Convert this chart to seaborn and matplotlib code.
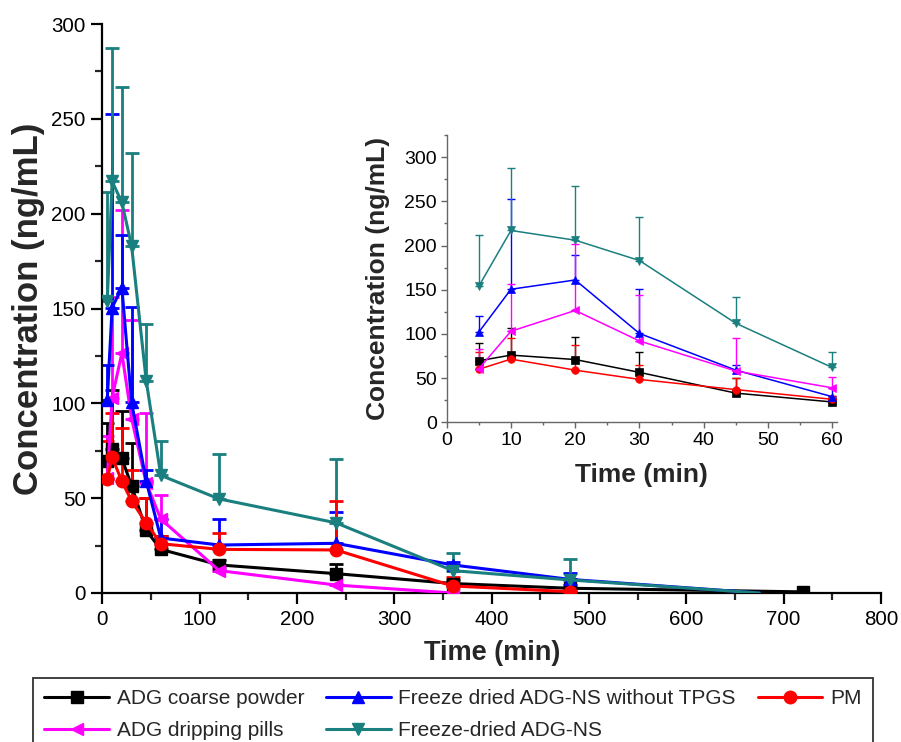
import numpy as np
import pandas as pd
import matplotlib
matplotlib.use('Agg')
import matplotlib.pyplot as plt
import seaborn as sns
from matplotlib.ticker import MultipleLocator

# ---------------- data ----------------
TIME = [5, 10, 20, 30, 45, 60, 120, 240, 360, 480]

coarse_time = TIME + [720]
coarse_mean = [69.6, 76, 71, 56.5, 33, 23, 14.8, 10.2, 5, 2.5, 0.6]
coarse_sd = [20, 31, 25, 22.5, 17, 7, 2.5, 5.3, 2, 1.5, 0]

pills_time = TIME[:9]
pills_mean = [60.5, 103, 126.5, 92, 58, 39, 11.8, 4.2, 0]
pills_sd = [22.5, 53, 75.5, 52, 37, 12.5, 1.2, 0.8, 0]

nstpgs_time = TIME + [675]
nstpgs_mean = [102, 150.5, 161, 100.5, 59, 29, 25.3, 26.2, 14.8, 7.2, 0]
nstpgs_sd = [18, 102, 28, 50.5, 6, 10, 13.7, 16.3, 1.7, 3.5, 0]

ns_time = TIME + [675]
ns_mean = [154, 217, 206, 183, 112, 62, 49.6, 37, 11.8, 6.9, 0]
ns_sd = [57.5, 70.5, 61, 49, 30, 18, 23.7, 33.5, 9.5, 11.1, 0]

pm_time = TIME
pm_mean = [60, 71.5, 59, 48.5, 37, 26, 23, 22.7, 3.7, 0.7]
pm_sd = [20, 23.5, 28, 16.5, 13, 4, 8.5, 26, 4.6, 0.3]

labels = ["ADG coarse powder", "ADG dripping pills",
          "Freeze dried ADG-NS without TPGS", "Freeze-dried ADG-NS", "PM"]
colors = ["#000000", "#FF00FF", "#0000FF", "#1A7F7F", "#FF0000"]
markers = ["s", "<", "^", "v", "o"]
times = [coarse_time, pills_time, nstpgs_time, ns_time, pm_time]
means = [coarse_mean, pills_mean, nstpgs_mean, ns_mean, pm_mean]
sds = [coarse_sd, pills_sd, nstpgs_sd, ns_sd, pm_sd]
# number of points that carry a marker (trailing zero points of some series have none)
n_marked = [11, 9, 10, 10, 10]
draw_order = [0, 4, 2, 1, 3]

# ---------------- style ----------------
sns.set_style("ticks")
plt.rcParams['font.family'] = ['Liberation Sans', 'DejaVu Sans']

fig = plt.figure(figsize=(9.01, 7.42), dpi=100)
ax = fig.add_axes([102.4 / 901, 1 - 593 / 742, 778.6 / 901, (593 - 24) / 742])

for i in draw_order:
    df = pd.DataFrame({"t": times[i], "c": means[i]})
    sd = np.array(sds[i])
    t = np.array(times[i]); m = np.array(means[i])
    msk = sd > 0
    ax.errorbar(t[msk], m[msk], yerr=[np.zeros(msk.sum()), sd[msk]], fmt='none',
                ecolor=colors[i], elinewidth=2.0, capsize=5, capthick=2.0, zorder=2 + i * 0.1)
    sns.lineplot(data=df, x="t", y="c", ax=ax, color=colors[i], marker=markers[i],
                 markersize=9, mec=colors[i], mew=1, lw=2.2, label=labels[i],
                 markevery=list(range(n_marked[i])), errorbar=None, zorder=3 + i * 0.1)

h, l = ax.get_legend_handles_labels()
hd = dict(zip(l, h))
ax.get_legend().remove()

ax.set_xlim(0, 800)
ax.set_ylim(0, 300)
ax.xaxis.set_major_locator(MultipleLocator(100))
ax.xaxis.set_minor_locator(MultipleLocator(50))
ax.yaxis.set_major_locator(MultipleLocator(50))
ax.yaxis.set_minor_locator(MultipleLocator(25))
for s in ["top", "right"]:
    ax.spines[s].set_visible(False)
for s in ["left", "bottom"]:
    ax.spines[s].set_linewidth(1.6)
    ax.spines[s].set_color("black")
ax.tick_params(which="major", direction="out", length=8, width=1.6, labelsize=14.8,
               pad=4, colors="black")
ax.tick_params(which="minor", direction="out", length=5, width=1.6)
ax.set_xlabel("Time (min)", fontsize=19.5, fontweight="bold")
ax.set_ylabel("Concentration (ng/mL)", fontsize=25, fontweight="bold")
ax.xaxis.set_label_coords(0.5, -0.083)
ax.yaxis.set_label_coords(-0.074, 0.5)

# ---------------- inset ----------------
ia = fig.add_axes([446.7 / 901, 1 - 422.3 / 742, 390 / 901, (422.3 - 135) / 742])
for i in draw_order:
    t = np.array(times[i]); m = np.array(means[i]); sd = np.array(sds[i])
    k = t <= 60
    df = pd.DataFrame({"t": t[k], "c": m[k]})
    ia.errorbar(t[k], m[k], yerr=[np.zeros(k.sum()), sd[k]], fmt='none',
                ecolor=colors[i], elinewidth=1.0, capsize=3, capthick=1.0, zorder=2)
    sns.lineplot(data=df, x="t", y="c", ax=ia, color=colors[i], marker=markers[i],
                 markersize=5.5, mec=colors[i], mew=0.5, lw=1.1, errorbar=None, zorder=3)
ia.set_xlim(0, 60.7)
ia.set_ylim(0, 325)
ia.xaxis.set_major_locator(MultipleLocator(10))
ia.xaxis.set_minor_locator(MultipleLocator(5))
ia.yaxis.set_major_locator(MultipleLocator(50))
ia.yaxis.set_minor_locator(MultipleLocator(25))
for s in ["top", "right"]:
    ia.spines[s].set_visible(False)
for s in ["left", "bottom"]:
    ia.spines[s].set_linewidth(1.0)
    ia.spines[s].set_color("#666666")
ia.tick_params(which="major", direction="out", length=4, width=1.0, labelsize=14,
               pad=3, color="#666666", labelcolor="black")
ia.tick_params(which="minor", direction="out", length=2.5, width=1.0, color="#666666")
ia.set_xlabel("Time (min)", fontsize=19, fontweight="bold")
ia.set_ylabel("Concentration (ng/mL)", fontsize=19, fontweight="bold")
ia.xaxis.set_label_coords(0.5, -0.14)
ia.yaxis.set_label_coords(-0.145, 0.5)
ia.set_facecolor("white")

# ---------------- legend ----------------
order = ["ADG coarse powder", "ADG dripping pills",
         "Freeze dried ADG-NS without TPGS", "Freeze-dried ADG-NS", "PM"]
leg = fig.legend([hd[o] for o in order], order, loc="upper left",
                 bbox_to_anchor=(33 / 901, 1 - 678 / 742), ncol=3, fontsize=15,
                 frameon=True, fancybox=False, framealpha=1, edgecolor="#333333",
                 handlelength=3.1, handletextpad=0.37, columnspacing=1.05,
                 borderpad=0.55, labelspacing=0.6, borderaxespad=0)
leg.get_frame().set_linewidth(1.3)

fig.savefig("out.png", dpi=100)
